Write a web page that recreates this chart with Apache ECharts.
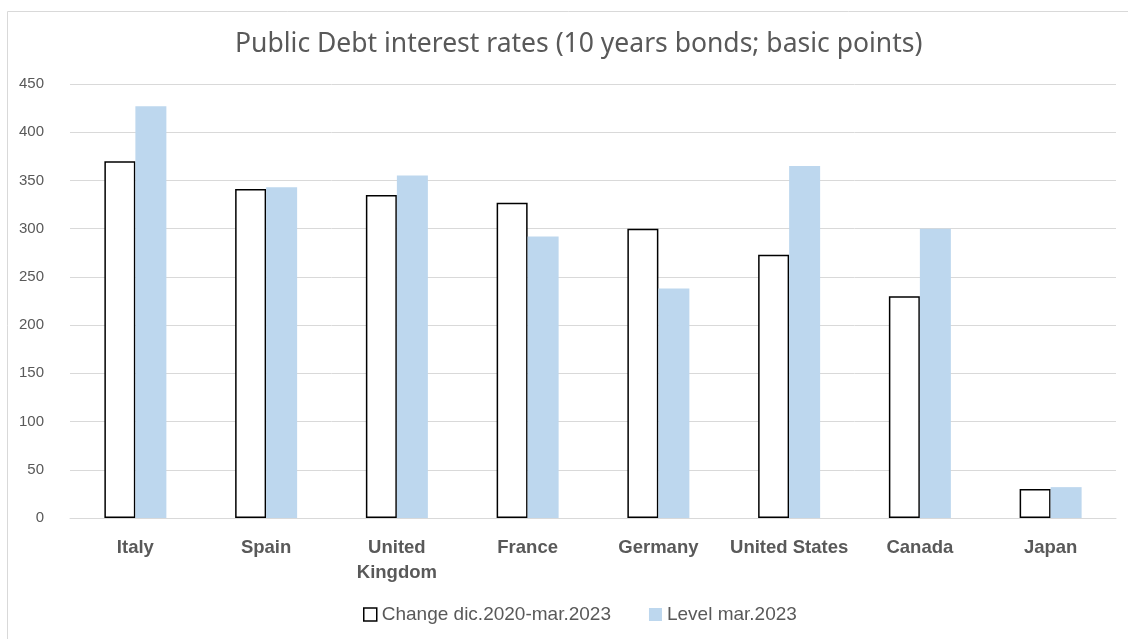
<!DOCTYPE html>
<html>
<head>
<meta charset="utf-8">
<script src="https://cdn.jsdelivr.net/npm/echarts@6/dist/echarts.min.js"></script>
<style>
  html, body { margin: 0; padding: 0; background: #fff; }
  #chart { width: 1128px; height: 639px; }
</style>
</head>
<body>
<div id="chart"></div>
<script>
const countries = ['Italy', 'Spain', 'United\nKingdom', 'France', 'Germany', 'United States', 'Canada', 'Japan']
const changeDic20Mar23 = [370, 341, 335, 327, 300, 273, 230, 30]
const levelMar23 = [427, 343, 355, 292, 238, 365, 300, 32]
const yTicks = [0, 50, 100, 150, 200, 250, 300, 350, 400, 450]

const grey = '#595959'
const font = '"Liberation Sans", sans-serif'

const chart = echarts.init(document.getElementById('chart'))

chart.setOption({
  animation: false,
  title: {
    text: 'Public Debt interest rates (10 years bonds; basic points)',
    left: 230,
    top: 26,
    textStyle: { color: grey, fontWeight: 'normal', fontSize: 26.5, fontFamily: '"Noto Sans", sans-serif' }
  },
  graphic: [{
    type: 'rect',
    shape: { x: 7.5, y: 11.5, width: 1140, height: 640 },
    style: { fill: null, stroke: '#d9d9d9', lineWidth: 1 },
    silent: true
  }],
  grid: { left: 70, right: 12, top: 84, bottom: 121 },
  legend: {
    bottom: 10,
    left: 358,
    itemWidth: 13,
    itemHeight: 13,
    itemGap: 38,
    itemTextGap: 5,
    textStyle: { color: grey, fontSize: 19, fontFamily: font },
    data: [
      { name: 'Change dic.2020-mar.2023', icon: 'rect', itemStyle: { color: '#fff', borderColor: '#000', borderWidth: 1.5 } },
      { name: 'Level mar.2023', icon: 'rect', itemStyle: { color: '#bdd7ee', borderWidth: 0 } }
    ]
  },
  xAxis: {
    type: 'category',
    data: countries,
    axisLine: { lineStyle: { color: '#d9d9d9' } },
    axisTick: { show: false },
    axisLabel: {
      color: grey,
      fontWeight: 'bold',
      fontSize: 18.5,
      fontFamily: font,
      margin: 17,
      lineHeight: 25,
      interval: 0
    }
  },
  yAxis: {
    type: 'value',
    min: yTicks[0],
    max: yTicks[yTicks.length - 1],
    interval: 50,
    axisLine: { show: false },
    axisTick: { show: false },
    splitLine: { lineStyle: { color: '#d9d9d9', width: 1 } },
    axisLabel: { color: grey, fontSize: 15, fontFamily: font, margin: 26 }
  },
  series: [
    {
      name: 'Change dic.2020-mar.2023',
      type: 'bar',
      data: changeDic20Mar23,
      barWidth: 31,
      barGap: '0%',
      itemStyle: { color: '#fff', borderColor: '#000', borderWidth: 1.5 }
    },
    {
      name: 'Level mar.2023',
      type: 'bar',
      data: levelMar23,
      barWidth: 31,
      barGap: '0%',
      itemStyle: { color: '#bdd7ee' }
    }
  ]
})
</script>
</body>
</html>
